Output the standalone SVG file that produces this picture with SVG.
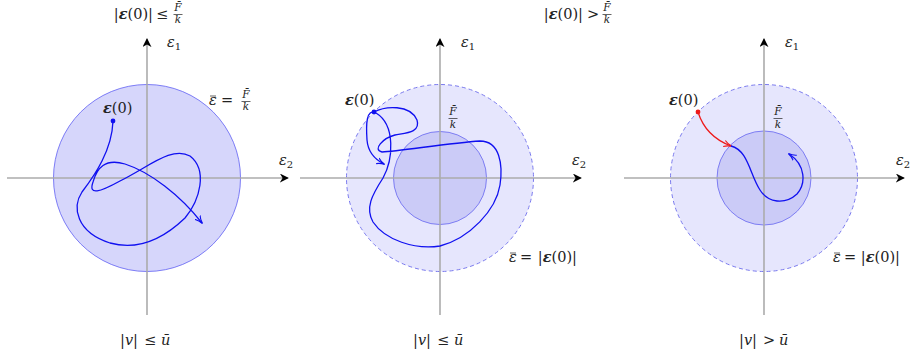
<svg xmlns="http://www.w3.org/2000/svg" width="912" height="353" viewBox="0 0 912 353">
<defs>
<marker id="axh" viewBox="0 0 10 10" refX="9" refY="5" markerWidth="9" markerHeight="9" markerUnits="userSpaceOnUse" orient="auto">
<path d="M0,0 L10,5 L0,10 L3,5 Z" fill="#000"/>
</marker>
<marker id="bh" viewBox="0 0 10 10" refX="9" refY="5" markerWidth="8" markerHeight="8" markerUnits="userSpaceOnUse" orient="auto">
<path d="M0,1 Q4,4 10,5 Q4,6 0,9" fill="none" stroke="#1010f0" stroke-width="1.4"/>
</marker>
<marker id="rh" viewBox="0 0 10 10" refX="9" refY="5" markerWidth="8" markerHeight="8" markerUnits="userSpaceOnUse" orient="auto">
<path d="M0,1 Q4,4 10,5 Q4,6 0,9" fill="none" stroke="#ee1a1a" stroke-width="1.4"/>
</marker>
</defs>
<style>
text{fill:#222;}
.m{font-style:italic;}
.b{font-weight:bold;font-style:italic;}
.lab{font-size:14.5px;}
.ax{font-size:14.5px;}
.fr{font-size:10.5px;}
.sub{font-size:10px;font-style:normal;}
.axis{stroke:#ababab;stroke-width:1.6;fill:none;}
.c1{fill:#d6d6fb;stroke:#7c7cf6;stroke-width:1;}
.co{fill:#e6e6fd;stroke:#7a7aee;stroke-width:1;stroke-dasharray:4 3;}
.ci{fill:#cbcbf7;stroke:#7d7df3;stroke-width:1;}
.tr{fill:none;stroke:#1010f0;stroke-width:1.3;}
.tr2{fill:none;stroke:#ee1a1a;stroke-width:1.3;}
.bar{stroke:#222;stroke-width:0.7;}
</style>

<g id="panel1" font-family="'DejaVu Serif', serif">
<circle class="c1" cx="147" cy="178" r="93.5"/>
<line class="axis" x1="147" y1="315" x2="147" y2="39" marker-end="url(#axh)"/>
<line class="axis" x1="7" y1="178" x2="288" y2="178" marker-end="url(#axh)"/>
<text class="ax" x="153" y="19" text-anchor="end"><tspan>|</tspan><tspan class="b">ε</tspan><tspan>(0)|</tspan></text>
<text class="ax" x="156" y="19">≤</text>
<text class="fr m" x="178" y="11" text-anchor="middle">F̄</text>
<line class="bar" x1="173.5" y1="14.5" x2="182.5" y2="14.5"/>
<text class="fr m" x="178" y="23" text-anchor="middle">k</text>
<text class="ax m" x="167" y="47">ε<tspan class="sub" dy="3">1</tspan></text>
<text class="ax m" x="279" y="165">ε<tspan class="sub" dy="3">2</tspan></text>
<text class="ax m" x="209" y="105">ε</text>
<line class="bar" x1="210" y1="96" x2="216" y2="96"/>
<text class="ax" x="221" y="105">=</text>
<text class="fr m" x="246" y="98" text-anchor="middle">F̄</text>
<line class="bar" x1="241.5" y1="101.5" x2="250.5" y2="101.5"/>
<text class="fr m" x="246" y="110" text-anchor="middle">k</text>
<text class="lab" x="103" y="113"><tspan class="b">ε</tspan>(0)</text>
<text class="ax" x="138" y="345" text-anchor="end">|<tspan class="m">v</tspan>|</text>
<text class="ax" x="144" y="345">≤</text>
<text class="ax m" x="161" y="345">ū</text>
</g>

<g id="panel2" font-family="'DejaVu Serif', serif">
<circle class="co" cx="440" cy="178" r="93.5"/>
<circle class="ci" cx="440" cy="178" r="46.5"/>
<line class="axis" x1="440" y1="315" x2="440" y2="39" marker-end="url(#axh)"/>
<line class="axis" x1="300" y1="178" x2="581" y2="178" marker-end="url(#axh)"/>
<text class="ax" x="583" y="19" text-anchor="end"><tspan>|</tspan><tspan class="b">ε</tspan><tspan>(0)|</tspan></text>
<text class="ax" x="587" y="19">&gt;</text>
<text class="fr m" x="607" y="11" text-anchor="middle">F̄</text>
<line class="bar" x1="602.5" y1="14.5" x2="611.5" y2="14.5"/>
<text class="fr m" x="607" y="23" text-anchor="middle">k</text>
<text class="ax m" x="461" y="47">ε<tspan class="sub" dy="3">1</tspan></text>
<text class="ax m" x="572" y="165">ε<tspan class="sub" dy="3">2</tspan></text>
<text class="fr m" x="453" y="115" text-anchor="middle">F̄</text>
<line class="bar" x1="448.5" y1="118.5" x2="457.5" y2="118.5"/>
<text class="fr m" x="453" y="128" text-anchor="middle">k</text>
<text class="lab" x="345" y="105"><tspan class="b">ε</tspan>(0)</text>
<text class="ax m" x="509" y="262">ε</text>
<line class="bar" x1="510" y1="253" x2="516" y2="253"/>
<text class="ax" x="520" y="262">=</text>
<text class="ax" x="577" y="262" text-anchor="end">|<tspan class="b">ε</tspan>(0)|</text>
<text class="ax" x="431" y="345" text-anchor="end">|<tspan class="m">v</tspan>|</text>
<text class="ax" x="437" y="345">≤</text>
<text class="ax m" x="454" y="345">ū</text>
</g>

<g id="panel3" font-family="'DejaVu Serif', serif">
<circle class="co" cx="764" cy="178" r="93.5"/>
<circle class="ci" cx="764" cy="178" r="47"/>
<line class="axis" x1="764" y1="315" x2="764" y2="39" marker-end="url(#axh)"/>
<line class="axis" x1="624" y1="178" x2="904" y2="178" marker-end="url(#axh)"/>
<text class="ax m" x="785" y="47">ε<tspan class="sub" dy="3">1</tspan></text>
<text class="ax m" x="896" y="165">ε<tspan class="sub" dy="3">2</tspan></text>
<text class="fr m" x="778" y="115" text-anchor="middle">F̄</text>
<line class="bar" x1="773.5" y1="118.5" x2="782.5" y2="118.5"/>
<text class="fr m" x="778" y="128" text-anchor="middle">k</text>
<text class="lab" x="669" y="105"><tspan class="b">ε</tspan>(0)</text>
<text class="ax m" x="833" y="262">ε</text>
<line class="bar" x1="834" y1="253" x2="840" y2="253"/>
<text class="ax" x="844" y="262">=</text>
<text class="ax" x="900" y="262" text-anchor="end">|<tspan class="b">ε</tspan>(0)|</text>
<text class="ax" x="757" y="345" text-anchor="end">|<tspan class="m">v</tspan>|</text>
<text class="ax" x="763" y="345">&gt;</text>
<text class="ax m" x="779" y="345">ū</text>
</g>

<g id="connectors">
<path class="tr" d="M113,121 C112,150 95,175 82,192 C72,207 76,232 110,243 C135,250 160,242 185,218 C200,200 208,170 190,156 C172,146 150,166 120,181 C100,192 88,196 93,182 C97,168 105,158 125,164 C150,172 180,195 202,223" marker-end="url(#bh)"/>
<circle cx="113" cy="121" r="2.4" fill="#1010f0"/>
<path class="tr" d="M374,112 C385,106 410,104 417,120 C421,133 405,133 395,135 C383,138 372,150 382,152 C400,151 450,143 480,141 C500,141 503,165 500,185 C496,210 470,238 440,246 C415,250 385,240 373,222 C365,208 372,195 383,178 C393,160 396,125 376,113 C366,108 366,125 367,140 C368,152 376,160 384,164" marker-end="url(#bh)"/>
<circle cx="374" cy="112" r="2.4" fill="#1010f0"/>
<path class="tr2" d="M698,112 C703,128 715,140 731,146" marker-end="url(#rh)"/>
<circle cx="698" cy="112" r="2.4" fill="#ee1a1a"/>
<path class="tr" d="M731,146 C748,150 750,175 760,190 C768,203 785,205 797,194 C806,184 806,165 789,154" marker-end="url(#bh)"/>
</g>
</svg>
